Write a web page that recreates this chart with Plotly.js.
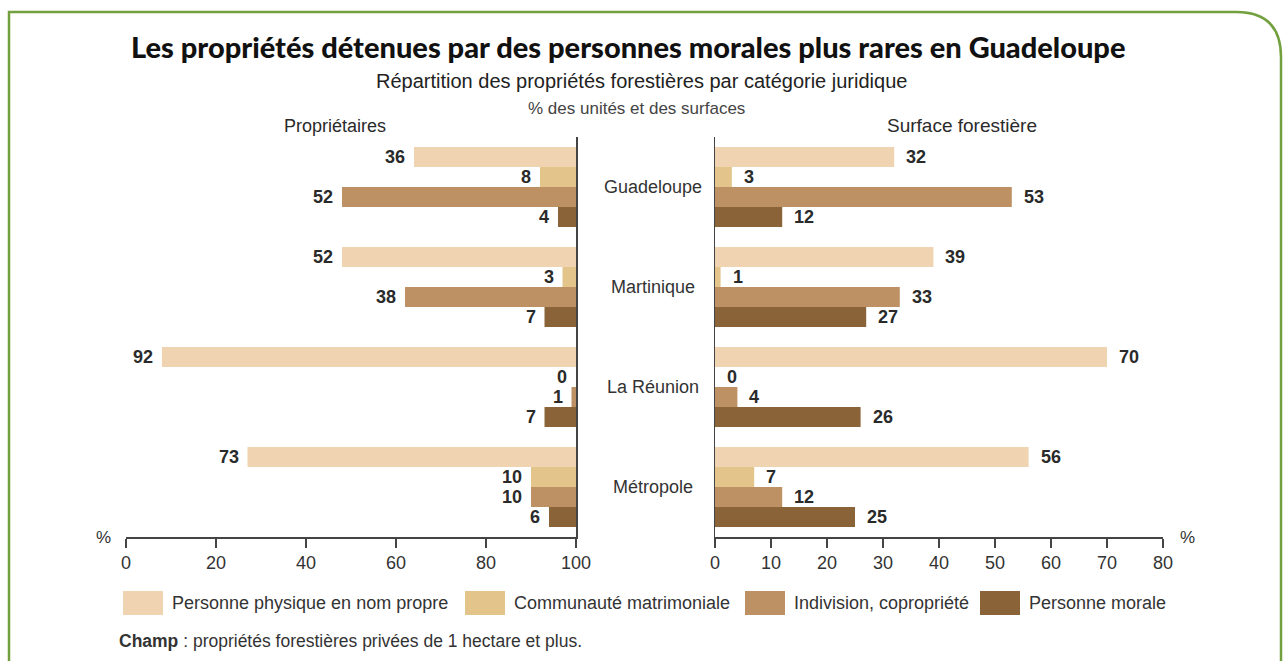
<!DOCTYPE html>
<html>
<head>
<meta charset="utf-8">
<script src="https://cdn.plot.ly/plotly-3.0.1.min.js"></script>
<style>html,body{margin:0;padding:0;background:#fff;}#chart{width:1288px;height:661px;}</style>
</head>
<body>
<div id="chart"></div>
<script>
const categories = ['Guadeloupe', 'Martinique', 'La Réunion', 'Métropole'];
const seriesNames = ['Personne physique en nom propre', 'Communauté matrimoniale', 'Indivision, copropriété', 'Personne morale'];
const seriesColors = ['#F0D3B0', '#E3C48A', '#BE9165', '#8A6338'];
// Propriétaires (% des unités)
const propPhysique = [36, 52, 92, 73];
const propCommunaute = [8, 3, 0, 10];
const propIndivision = [52, 38, 1, 10];
const propMorale = [4, 7, 7, 6];
// Surface forestière (% des surfaces)
const surfPhysique = [32, 39, 70, 56];
const surfCommunaute = [3, 1, 0, 7];
const surfIndivision = [53, 33, 4, 12];
const surfMorale = [12, 27, 26, 25];
const leftTicks = [0, 20, 40, 60, 80, 100];
const rightTicks = [0, 10, 20, 30, 40, 50, 60, 70, 80];

const W = 1288, H = 661;
const fx = x => x / W, fy = y => 1 - y / H;
const BODY = '"Liberation Sans Narrow", "Liberation Sans", sans-serif';
const DARK = '#2a2a2a';

const propSeries = [propPhysique, propCommunaute, propIndivision, propMorale];
const surfSeries = [surfPhysique, surfCommunaute, surfIndivision, surfMorale];

const traces = [];
propSeries.forEach((vals, i) => {
  traces.push({
    type: 'bar', orientation: 'h', y: categories, x: vals.map(v => -v), base: 100,
    xaxis: 'x', yaxis: 'y', marker: {color: seriesColors[i], line: {width: 0}},
    name: seriesNames[i], showlegend: false, hoverinfo: 'skip'
  });
});
surfSeries.forEach((vals, i) => {
  traces.push({
    type: 'bar', orientation: 'h', y: categories, x: vals,
    xaxis: 'x2', yaxis: 'y2', marker: {color: seriesColors[i], line: {width: 0}},
    name: seriesNames[i], showlegend: false, hoverinfo: 'skip'
  });
});

const offsets = [-0.3, -0.1, 0.1, 0.3];
const annotations = [];
propSeries.forEach((vals, s) => {
  vals.forEach((v, c) => {
    annotations.push({xref: 'x', yref: 'y', x: 100 - v, y: c + offsets[s], text: String(v),
      showarrow: false, xanchor: 'right', yanchor: 'middle', xshift: -7,
      font: {family: BODY, size: 18, color: DARK, weight: 'bold'}});
  });
});
surfSeries.forEach((vals, s) => {
  vals.forEach((v, c) => {
    annotations.push({xref: 'x2', yref: 'y2', x: v, y: c + offsets[s], text: String(v),
      showarrow: false, xanchor: 'left', yanchor: 'middle', xshift: 10,
      font: {family: BODY, size: 18, color: DARK, weight: 'bold'}});
  });
});
categories.forEach((c, i) => {
  annotations.push({xref: 'paper', yref: 'y2', x: fx(653), y: i, text: c, showarrow: false,
    xanchor: 'center', yanchor: 'middle', font: {family: BODY, size: 18, color: '#333'}});
});

const txt = (x, y, text, size, opts = {}) => Object.assign({
  xref: 'paper', yref: 'paper', x: fx(x), y: fy(y), text, showarrow: false,
  xanchor: 'center', yanchor: 'middle', font: {family: BODY, size, color: DARK}
}, opts);

annotations.push(txt(628, 46, 'Les propriétés détenues par des personnes morales plus rares en Guadeloupe', 29,
  {font: {family: 'Lato, "DejaVu Sans", sans-serif', size: 29, color: '#111', weight: 900}}));
annotations.push(txt(641, 81, 'Répartition des propriétés forestières par catégorie juridique', 20,
  {font: {family: BODY, size: 20, color: '#222', weight: 500}}));
annotations.push(txt(636, 108, '% des unités et des surfaces', 17, {font: {family: BODY, size: 17, color: '#444'}}));
annotations.push(txt(335, 126, 'Propriétaires', 18));
annotations.push(txt(962, 126, 'Surface forestière', 19));
annotations.push(txt(103, 537, '%', 17, {font: {family: BODY, size: 17, color: '#333'}}));
annotations.push(txt(1187, 537, '%', 17, {font: {family: BODY, size: 17, color: '#333'}}));
annotations.push(txt(117, 641, '<b>Champ</b> : propriétés forestières privées de 1 hectare et plus.', 17.5,
  {xanchor: 'left', font: {family: BODY, size: 17.5, color: '#333'}}));

const legendSwatchX = [123, 465, 745, 980];
const shapes = [];
seriesNames.forEach((n, i) => {
  const x0 = legendSwatchX[i];
  shapes.push({type: 'rect', xref: 'paper', yref: 'paper', x0: fx(x0), x1: fx(x0 + 40), y0: fy(615), y1: fy(591),
    fillcolor: seriesColors[i], line: {width: 0}});
  annotations.push(txt(x0 + 47, 603, n, 18, {xanchor: 'left', font: {family: BODY, size: 18, color: '#333'}}));
});

const P = (x, y) => fx(x).toFixed(5) + ',' + fy(y).toFixed(5);
shapes.push({type: 'path', xref: 'paper', yref: 'paper',
  path: 'M' + P(9, 670) + ' L' + P(9, 12) + ' L' + P(1236, 12) + ' Q' + P(1281, 12) + ' ' + P(1281, 57) + ' L' + P(1281, 670),
  line: {color: '#73A03F', width: 2.5}});

const axisCommon = {
  showgrid: false, zeroline: false, showline: true, linecolor: '#444', linewidth: 1.5,
  ticks: 'outside', ticklen: 9, tickwidth: 1.5, tickcolor: '#444',
  tickfont: {family: BODY, size: 18, color: '#333'}, fixedrange: true
};
const yDom = [fy(537), fy(137)];
const layout = {
  width: W, height: H, margin: {l: 0, r: 0, t: 0, b: 0},
  paper_bgcolor: '#fff', plot_bgcolor: 'rgba(0,0,0,0)',
  barmode: 'group', bargap: 0.2, bargroupgap: 0, showlegend: false,
  xaxis: Object.assign({}, axisCommon, {domain: [fx(126), fx(576)], range: [0, 100], tickvals: leftTicks, anchor: 'y'}),
  yaxis: {domain: yDom, type: 'category', autorange: 'reversed', side: 'right', anchor: 'x',
    showline: true, linecolor: '#444', linewidth: 1.5, showticklabels: false, ticks: '', showgrid: false, zeroline: false, fixedrange: true},
  xaxis2: Object.assign({}, axisCommon, {domain: [fx(715), fx(1163)], range: [0, 80], tickvals: rightTicks, anchor: 'y2'}),
  yaxis2: {domain: yDom, type: 'category', autorange: 'reversed', side: 'left', anchor: 'x2',
    showline: true, linecolor: '#444', linewidth: 1.5, showticklabels: false, ticks: '', showgrid: false, zeroline: false, fixedrange: true},
  annotations, shapes
};
Plotly.newPlot('chart', traces, layout, {displayModeBar: false, staticPlot: true});
</script>
</body>
</html>
